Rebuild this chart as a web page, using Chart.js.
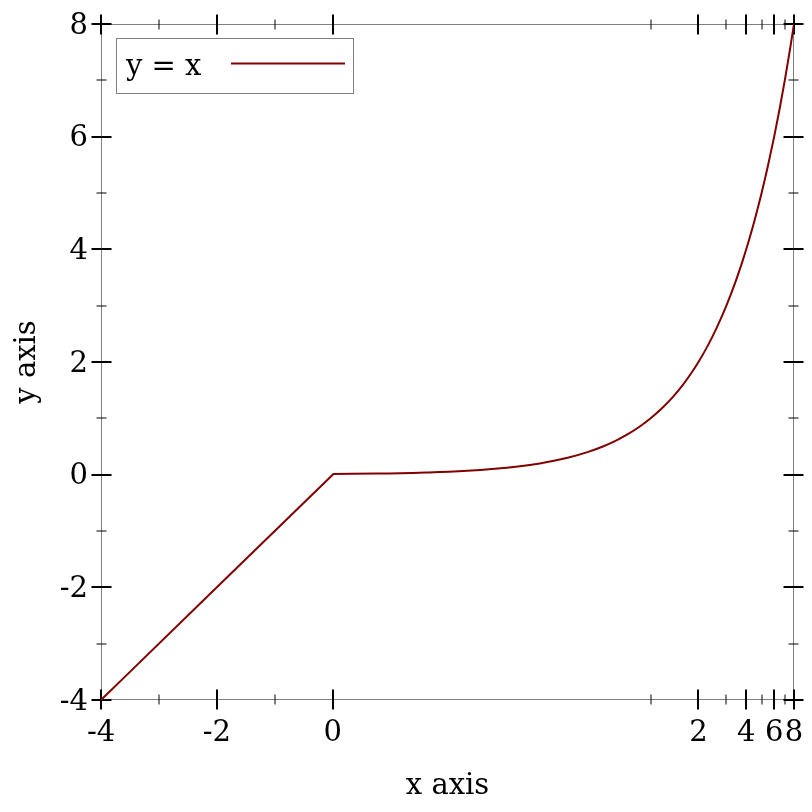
<!DOCTYPE html>
<html>
<head>
<meta charset="utf-8">
<script src="https://cdn.jsdelivr.net/npm/chart.js@4/dist/chart.umd.min.js"></script>
<style>
  html, body { margin: 0; padding: 0; background: #ffffff; }
  #wrap { width: 812px; height: 812px; }
</style>
</head>
<body>
<div id="wrap"><canvas id="c" width="812" height="812"></canvas></div>
<script>
// ---- data ----
const seriesLabel = 'y = x';
const seriesX = [-4, -2, 0, 0.01, 0.02, 0.04, 0.07, 0.1, 0.15, 0.2, 0.25, 0.3, 0.4, 0.5, 0.6, 0.7, 0.85, 1, 1.2, 1.4, 1.6, 1.8, 2, 2.3, 2.6, 3, 3.4, 3.8, 4, 4.5, 5, 5.5, 6, 6.5, 7, 7.5, 8];
const seriesY = [-4, -2, 0, 0.01, 0.02, 0.04, 0.07, 0.1, 0.15, 0.2, 0.25, 0.3, 0.4, 0.5, 0.6, 0.7, 0.85, 1, 1.2, 1.4, 1.6, 1.8, 2, 2.3, 2.6, 3, 3.4, 3.8, 4, 4.5, 5, 5.5, 6, 6.5, 7, 7.5, 8];
const xMajorTicks = [-4, -2, 0, 2, 4, 6, 8];
const xMinorTicks = [-3, -1, 1, 3, 5, 7];
const yMajorTicks = [-4, -2, 0, 2, 4, 6, 8];
const yMinorTicks = [-3, -1, 1, 3, 5, 7];
const xTitle = 'x axis';
const yTitle = 'y axis';

// ---- styles ----
const FONT = 'DejaVu Serif';
const FS = 29;
const LINE_COLOR = 'rgb(128,0,0)';
const AXIS_COLOR = 'rgb(128,128,128)';

// ---- stretched axis: linear below a small cutoff, logarithmic above ----
const CUT = 0.01, LOGK = 1.19;
class StretchScale extends Chart.LinearScale {
  tf(v) { return v <= CUT ? v : CUT + LOGK * Math.log(v / CUT); }
  itf(u) { return u <= CUT ? u : CUT * Math.exp((u - CUT) / LOGK); }
  getPixelForValue(v) {
    if (v === null || v === undefined) return NaN;
    const t0 = this.tf(this.min), t1 = this.tf(this.max);
    return this.getPixelForDecimal((this.tf(v) - t0) / (t1 - t0));
  }
  getValueForPixel(p) {
    const t0 = this.tf(this.min), t1 = this.tf(this.max);
    return this.itf(t0 + this.getDecimalForPixel(p) * (t1 - t0));
  }
}
StretchScale.id = 'stretch';
StretchScale.defaults = Chart.LinearScale.defaults;
Chart.register(StretchScale);

Chart.defaults.font.family = FONT;
Chart.defaults.font.size = FS;
Chart.defaults.color = '#000';

const framePlugin = {
  id: 'frame',
  beforeDatasetsDraw(chart) {
    const ctx = chart.ctx, a = chart.chartArea;
    const xs = chart.scales.x, ys = chart.scales.y;
    const L = Math.round(a.left) + 0.5, R = Math.round(a.right) - 0.5;
    const T = Math.round(a.top) + 0.5, B = Math.round(a.bottom) - 0.5;
    ctx.save();
    ctx.strokeStyle = AXIS_COLOR;
    ctx.lineWidth = 1;
    ctx.strokeRect(L, T, R - L, B - T);
    ctx.strokeStyle = '#000';
    const tick = (vals, half, w) => {
      ctx.lineWidth = w;
      ctx.beginPath();
      vals.forEach(v => {
        const px = Math.round(xs.getPixelForValue(v));
        ctx.moveTo(px, B - half); ctx.lineTo(px, B + half);
        ctx.moveTo(px, T - half); ctx.lineTo(px, T + half);
      });
      ctx.stroke();
    };
    const ytick = (vals, half, w) => {
      ctx.lineWidth = w;
      ctx.beginPath();
      vals.forEach(v => {
        const py = Math.round(ys.getPixelForValue(v));
        ctx.moveTo(L - half, py); ctx.lineTo(L + half, py);
        ctx.moveTo(R - half, py); ctx.lineTo(R + half, py);
      });
      ctx.stroke();
    };
    tick(xMinorTicks, 5, 1);
    tick(xMajorTicks, 10, 2);
    ytick(yMinorTicks, 5, 1);
    ytick(yMajorTicks, 10, 2);
    ctx.restore();
  },
  afterDatasetsDraw(chart) {
    const ctx = chart.ctx;
    const ds = chart.data.datasets[0];
    ctx.save();
    ctx.fillStyle = '#fff';
    ctx.fillRect(116, 38, 238, 56);
    ctx.strokeStyle = AXIS_COLOR;
    ctx.lineWidth = 1;
    ctx.strokeRect(116.5, 38.5, 237, 55);
    ctx.fillStyle = '#000';
    ctx.font = FS + 'px "' + FONT + '"';
    ctx.textBaseline = 'alphabetic';
    ctx.fillText(ds.label, 126, 75);
    ctx.strokeStyle = ds.borderColor;
    ctx.lineWidth = 2;
    ctx.beginPath();
    ctx.moveTo(231, 63.5); ctx.lineTo(345, 63.5);
    ctx.stroke();
    ctx.restore();
  }
};

new Chart(document.getElementById('c'), {
  type: 'line',
  data: {
    datasets: [{
      label: seriesLabel,
      data: seriesX.map((x, i) => ({ x: x, y: seriesY[i] })),
      borderColor: LINE_COLOR,
      borderWidth: 2,
      pointRadius: 0,
      fill: false,
      cubicInterpolationMode: 'monotone'
    }]
  },
  options: {
    responsive: false,
    animation: false,
    layout: { padding: { left: 0, top: 24, right: 18, bottom: 0 } },
    plugins: { legend: { display: false }, tooltip: { enabled: false } },
    scales: {
      x: {
        type: 'stretch',
        min: -4, max: 8,
        grid: { display: false },
        border: { display: false },
        afterBuildTicks: s => { s.ticks = xMajorTicks.map(v => ({ value: v })); },
        afterFit: s => { s.height = 112; s.paddingLeft = 0; s.paddingRight = 0; },
        ticks: { autoSkip: false, maxRotation: 0, padding: 8, callback: v => String(v), color: '#000' },
        title: { display: true, text: xTitle, color: '#000', font: { size: FS }, padding: { top: 0, bottom: 8 } }
      },
      y: {
        type: 'linear',
        min: -4, max: 8,
        grid: { display: false },
        border: { display: false },
        afterBuildTicks: s => { s.ticks = yMajorTicks.map(v => ({ value: v })); },
        afterFit: s => { s.width = 101; s.paddingTop = 0; s.paddingBottom = 0; },
        ticks: { autoSkip: false, padding: 5, labelOffset: 2, callback: v => String(v), color: '#000' },
        title: { display: true, text: yTitle, color: '#000', font: { size: FS }, padding: { top: 10, bottom: 0 } }
      }
    }
  },
  plugins: [framePlugin]
});
</script>
</body>
</html>
